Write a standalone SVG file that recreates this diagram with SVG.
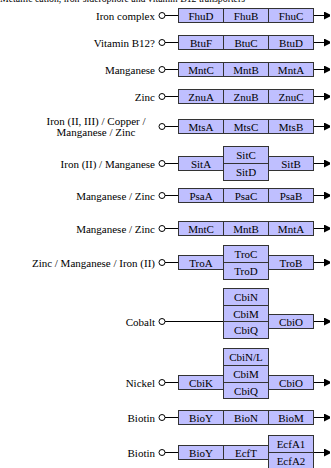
<svg xmlns="http://www.w3.org/2000/svg" width="331" height="468" viewBox="0 0 331 468">
<style>
text{font-family:'Liberation Serif','DejaVu Serif','Times New Roman',serif;font-size:11px;fill:#000}
.lbl{text-anchor:end}
.c{text-anchor:middle}
rect.b{fill:#bfbfff;stroke:#333;stroke-width:1}
.ln{stroke:#000;stroke-width:1;fill:none}
circle.o{fill:#fff;stroke:#000;stroke-width:1}
</style>
<defs>
<marker id="ah" viewBox="0 0 6 8" refX="6" refY="4" markerWidth="6" markerHeight="8" markerUnits="userSpaceOnUse" orient="auto">
<path d="M0,0 L6,3 L6,5 L0,8 Z" fill="#000"/>
</marker>
</defs>
<rect width="331" height="468" fill="#fff"/>
<g font-family="Liberation Serif, DejaVu Serif, serif">
<text x="0" y="1.5" font-size="10.5" textLength="245" lengthAdjust="spacingAndGlyphs">Metallic cation, iron-siderophore and vitamin B12 transporters</text>

<g id="connectors">
<circle class="o" cx="162" cy="15.5" r="3"/><line class="ln" x1="165" y1="15.5" x2="178" y2="15.5"/><line class="ln" x1="314" y1="15.5" x2="330" y2="15.5" marker-end="url(#ah)"/>
<circle class="o" cx="162" cy="42.5" r="3"/><line class="ln" x1="165" y1="42.5" x2="178" y2="42.5"/><line class="ln" x1="314" y1="42.5" x2="330" y2="42.5" marker-end="url(#ah)"/>
<circle class="o" cx="162" cy="69.5" r="3"/><line class="ln" x1="165" y1="69.5" x2="178" y2="69.5"/><line class="ln" x1="314" y1="69.5" x2="330" y2="69.5" marker-end="url(#ah)"/>
<circle class="o" cx="162" cy="96.5" r="3"/><line class="ln" x1="165" y1="96.5" x2="178" y2="96.5"/><line class="ln" x1="314" y1="96.5" x2="330" y2="96.5" marker-end="url(#ah)"/>
<circle class="o" cx="162" cy="126.5" r="3"/><line class="ln" x1="165" y1="126.5" x2="178" y2="126.5"/><line class="ln" x1="314" y1="126.5" x2="330" y2="126.5" marker-end="url(#ah)"/>
<circle class="o" cx="162" cy="163.5" r="3"/><line class="ln" x1="165" y1="163.5" x2="178" y2="163.5"/><line class="ln" x1="314" y1="163.5" x2="330" y2="163.5" marker-end="url(#ah)"/>
<circle class="o" cx="162" cy="195.5" r="3"/><line class="ln" x1="165" y1="195.5" x2="178" y2="195.5"/><line class="ln" x1="314" y1="195.5" x2="330" y2="195.5" marker-end="url(#ah)"/>
<circle class="o" cx="162" cy="228.5" r="3"/><line class="ln" x1="165" y1="228.5" x2="178" y2="228.5"/><line class="ln" x1="314" y1="228.5" x2="330" y2="228.5" marker-end="url(#ah)"/>
<circle class="o" cx="162" cy="262.5" r="3"/><line class="ln" x1="165" y1="262.5" x2="178" y2="262.5"/><line class="ln" x1="314" y1="262.5" x2="330" y2="262.5" marker-end="url(#ah)"/>
<circle class="o" cx="162" cy="321.5" r="3"/><line class="ln" x1="165" y1="321.5" x2="223" y2="321.5"/><line class="ln" x1="314" y1="321.5" x2="330" y2="321.5" marker-end="url(#ah)"/>
<circle class="o" cx="162" cy="382.5" r="3"/><line class="ln" x1="165" y1="382.5" x2="178" y2="382.5"/><line class="ln" x1="314" y1="382.5" x2="330" y2="382.5" marker-end="url(#ah)"/>
<circle class="o" cx="162" cy="417.5" r="3"/><line class="ln" x1="165" y1="417.5" x2="178" y2="417.5"/><line class="ln" x1="314" y1="417.5" x2="330" y2="417.5" marker-end="url(#ah)"/>
<circle class="o" cx="162" cy="452.5" r="3"/><line class="ln" x1="165" y1="452.5" x2="178" y2="452.5"/><line class="ln" x1="314" y1="452.5" x2="330" y2="452.5" marker-end="url(#ah)"/>
</g>

<g id="row-iron-complex">
<text x="155" y="19.5" class="lbl">Iron complex</text>
<rect class="b" x="178.5" y="8.5" width="45" height="14"/><text x="201" y="19.5" class="c">FhuD</text>
<rect class="b" x="223.5" y="8.5" width="45" height="14"/><text x="246" y="19.5" class="c">FhuB</text>
<rect class="b" x="268.5" y="8.5" width="45" height="14"/><text x="291" y="19.5" class="c">FhuC</text>
</g>
<g id="row-vitamin-b12">
<text x="155" y="46.5" class="lbl">Vitamin B12?</text>
<rect class="b" x="178.5" y="35.5" width="45" height="14"/><text x="201" y="46.5" class="c">BtuF</text>
<rect class="b" x="223.5" y="35.5" width="45" height="14"/><text x="246" y="46.5" class="c">BtuC</text>
<rect class="b" x="268.5" y="35.5" width="45" height="14"/><text x="291" y="46.5" class="c">BtuD</text>
</g>
<g id="row-manganese">
<text x="155" y="73.5" class="lbl">Manganese</text>
<rect class="b" x="178.5" y="62.5" width="45" height="14"/><text x="201" y="73.5" class="c">MntC</text>
<rect class="b" x="223.5" y="62.5" width="45" height="14"/><text x="246" y="73.5" class="c">MntB</text>
<rect class="b" x="268.5" y="62.5" width="45" height="14"/><text x="291" y="73.5" class="c">MntA</text>
</g>
<g id="row-zinc">
<text x="155" y="100.5" class="lbl">Zinc</text>
<rect class="b" x="178.5" y="89.5" width="45" height="14"/><text x="201" y="100.5" class="c">ZnuA</text>
<rect class="b" x="223.5" y="89.5" width="45" height="14"/><text x="246" y="100.5" class="c">ZnuB</text>
<rect class="b" x="268.5" y="89.5" width="45" height="14"/><text x="291" y="100.5" class="c">ZnuC</text>
</g>
<g id="row-mts">
<text x="96" y="124.5" class="c" font-size="10">Iron (II, III) / Copper /</text>
<text x="96" y="136" class="c" font-size="10">Manganese / Zinc</text>
<rect class="b" x="178.5" y="119.5" width="45" height="14"/><text x="201" y="130.5" class="c">MtsA</text>
<rect class="b" x="223.5" y="119.5" width="45" height="14"/><text x="246" y="130.5" class="c">MtsC</text>
<rect class="b" x="268.5" y="119.5" width="45" height="14"/><text x="291" y="130.5" class="c">MtsB</text>
</g>
<g id="row-sit">
<text x="155" y="167.5" class="lbl">Iron (II) / Manganese</text>
<rect class="b" x="178.5" y="156.5" width="45" height="14"/><text x="201" y="167.5" class="c">SitA</text>
<rect class="b" x="223.5" y="146.5" width="45" height="17"/><text x="246" y="159" class="c">SitC</text>
<rect class="b" x="223.5" y="163.5" width="45" height="17"/><text x="246" y="176" class="c">SitD</text>
<rect class="b" x="268.5" y="156.5" width="45" height="14"/><text x="291" y="167.5" class="c">SitB</text>
</g>
<g id="row-psa">
<text x="155" y="199.5" class="lbl">Manganese / Zinc</text>
<rect class="b" x="178.5" y="188.5" width="45" height="14"/><text x="201" y="199.5" class="c">PsaA</text>
<rect class="b" x="223.5" y="188.5" width="45" height="14"/><text x="246" y="199.5" class="c">PsaC</text>
<rect class="b" x="268.5" y="188.5" width="45" height="14"/><text x="291" y="199.5" class="c">PsaB</text>
</g>
<g id="row-mnt2">
<text x="155" y="232.5" class="lbl">Manganese / Zinc</text>
<rect class="b" x="178.5" y="221.5" width="45" height="14"/><text x="201" y="232.5" class="c">MntC</text>
<rect class="b" x="223.5" y="221.5" width="45" height="14"/><text x="246" y="232.5" class="c">MntB</text>
<rect class="b" x="268.5" y="221.5" width="45" height="14"/><text x="291" y="232.5" class="c">MntA</text>
</g>
<g id="row-tro">
<text x="155" y="266.5" class="lbl">Zinc / Manganese / Iron (II)</text>
<rect class="b" x="178.5" y="255.5" width="45" height="14"/><text x="201" y="266.5" class="c">TroA</text>
<rect class="b" x="223.5" y="245.5" width="45" height="17"/><text x="246" y="258" class="c">TroC</text>
<rect class="b" x="223.5" y="262.5" width="45" height="17"/><text x="246" y="275" class="c">TroD</text>
<rect class="b" x="268.5" y="255.5" width="45" height="14"/><text x="291" y="266.5" class="c">TroB</text>
</g>
<g id="row-cobalt">
<text x="155" y="325.5" class="lbl">Cobalt</text>
<rect class="b" x="223.5" y="288.5" width="45" height="17"/><text x="246" y="301" class="c">CbiN</text>
<rect class="b" x="223.5" y="305.5" width="45" height="16"/><text x="246" y="317.5" class="c">CbiM</text>
<rect class="b" x="223.5" y="321.5" width="45" height="17"/><text x="246" y="334" class="c">CbiQ</text>
<rect class="b" x="268.5" y="314.5" width="45" height="14"/><text x="291" y="325.5" class="c">CbiO</text>
</g>
<g id="row-nickel">
<text x="155" y="386.5" class="lbl">Nickel</text>
<rect class="b" x="178.5" y="375.5" width="45" height="14"/><text x="201" y="386.5" class="c">CbiK</text>
<rect class="b" x="223.5" y="348.5" width="45" height="17"/><text x="246" y="361" class="c">CbiN/L</text>
<rect class="b" x="223.5" y="365.5" width="45" height="17"/><text x="246" y="378" class="c">CbiM</text>
<rect class="b" x="223.5" y="382.5" width="45" height="16"/><text x="246" y="394.5" class="c">CbiQ</text>
<rect class="b" x="268.5" y="375.5" width="45" height="14"/><text x="291" y="386.5" class="c">CbiO</text>
</g>
<g id="row-biotin1">
<text x="155" y="421.5" class="lbl">Biotin</text>
<rect class="b" x="178.5" y="410.5" width="45" height="14"/><text x="201" y="421.5" class="c">BioY</text>
<rect class="b" x="223.5" y="410.5" width="45" height="14"/><text x="246" y="421.5" class="c">BioN</text>
<rect class="b" x="268.5" y="410.5" width="45" height="14"/><text x="291" y="421.5" class="c">BioM</text>
</g>
<g id="row-biotin2">
<text x="155" y="456.5" class="lbl">Biotin</text>
<rect class="b" x="178.5" y="445.5" width="45" height="14"/><text x="201" y="456.5" class="c">BioY</text>
<rect class="b" x="223.5" y="445.5" width="45" height="14"/><text x="246" y="456.5" class="c">EcfT</text>
<rect class="b" x="268.5" y="435.5" width="45" height="17"/><text x="291" y="448" class="c">EcfA1</text>
<rect class="b" x="268.5" y="452.5" width="45" height="17"/><text x="291" y="465" class="c">EcfA2</text>
</g>
</g>
</svg>
